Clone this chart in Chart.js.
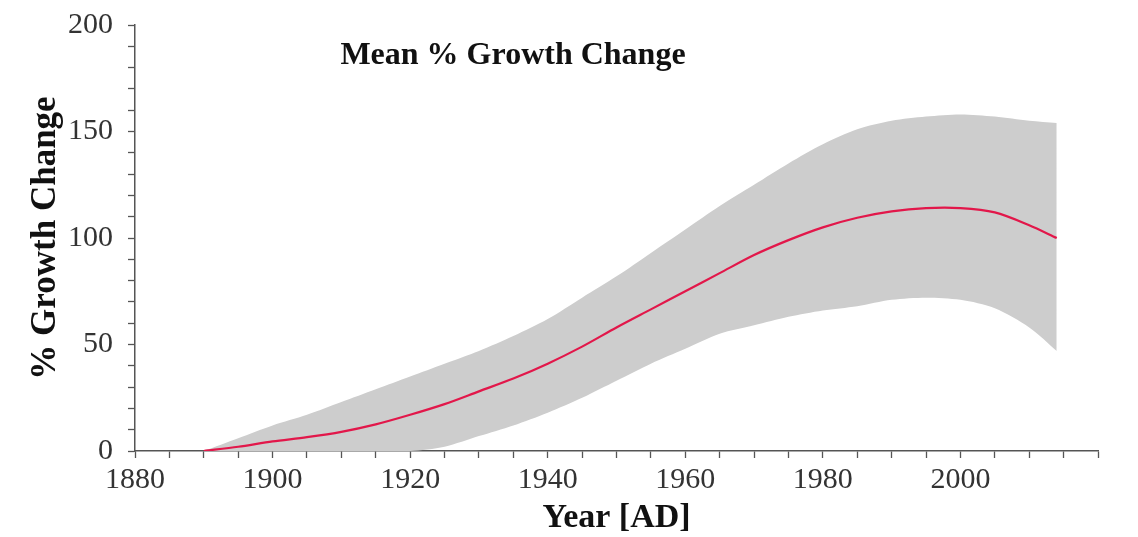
<!DOCTYPE html>
<html>
<head>
<meta charset="utf-8">
<title>Mean % Growth Change</title>
<script src="https://cdn.jsdelivr.net/npm/chart.js@4"></script>
<style>
    html, body { margin: 0; padding: 0; background: #fff; }
    #wrap { width: 1138px; height: 537px; }
</style>
</head>
<body>
<div id="wrap"><canvas id="growthChart"></canvas></div>
<script>
// Values
const years = [1890, 1895, 1900, 1905, 1910, 1915, 1920, 1925, 1930, 1935, 1940, 1945, 1950,
               1955, 1960, 1965, 1970, 1975, 1980, 1985, 1990, 1995, 2000, 2005, 2010, 2014];
const meanGrowth = [0, 2, 4.5, 6.5, 9, 12.5, 17, 22, 28, 34, 41, 49, 58,
                    66.5, 75, 83.5, 92, 99, 105, 109.5, 112.5, 114, 114, 112, 106, 100];
const upperBound = [0, 6, 12, 17, 23, 29, 35, 41, 47, 54, 62, 72, 82,
                    93, 104, 115, 125, 135, 144, 151, 155, 157, 158, 157, 155, 154];
const lowerBound = [0, 0, 0, 0, 0, 0, 0, 2, 7, 12, 18, 25, 33,
                    41, 48, 55, 59, 63, 66, 68, 71, 72, 71, 67, 58, 47];

const xMin = 1880, xMax = 2020, xMajor = 20, xMinor = 5, xLastLabel = 2000;
const yMin = 0, yMax = 200, yMajor = 50, yMinor = 10;

const chartTitle = 'Mean % Growth Change';
const serif = '"Liberation Serif", "DejaVu Serif", serif';
const axisColor = '#555';

function toPoints(values) {
    return years.map(function(yr, i) {
        return { x: yr, y: values[i] };
    });
}

// Title sits inside the plot area
const innerTitle = {
    id: 'innerTitle',
    afterDraw: function(chart) {
        const ctx = chart.ctx;
        ctx.save();
        ctx.font = 'bold 32px ' + serif;
        ctx.fillStyle = '#111';
        ctx.textAlign = 'center';
        ctx.textBaseline = 'middle';
        ctx.fillText(chartTitle, chart.chartArea.left + 378, 56);
        ctx.restore();
    }
};

const ctx = document.getElementById('growthChart').getContext('2d');
new Chart(ctx, {
    type: 'line',
    data: {
        datasets: [{
            label: 'Mean',
            data: toPoints(meanGrowth),
            borderColor: '#e2174a',
            borderWidth: 2.2,
            pointRadius: 0,
            tension: 0.3,
            fill: false,
            order: 0
        }, {
            label: 'Upper',
            data: toPoints(upperBound),
            borderWidth: 0,
            borderColor: 'rgba(0,0,0,0)',
            backgroundColor: 'rgb(205,205,205)',
            pointRadius: 0,
            tension: 0.3,
            fill: '+1',
            order: 1
        }, {
            label: 'Lower',
            data: toPoints(lowerBound),
            borderWidth: 0,
            borderColor: 'rgba(0,0,0,0)',
            pointRadius: 0,
            tension: 0.3,
            fill: false,
            order: 1
        }]
    },
    options: {
        responsive: true,
        maintainAspectRatio: false,
        animation: false,
        layout: {
            padding: { top: 25, right: 40, left: 0, bottom: 0 }
        },
        plugins: {
            legend: { display: false },
            tooltip: { enabled: false }
        },
        scales: {
            x: {
                type: 'linear',
                min: xMin,
                max: xMax,
                afterFit: function(scale) { scale.height = 86; },
                border: { color: axisColor, width: 1.5 },
                grid: { drawOnChartArea: false, tickLength: 7, tickColor: axisColor, tickWidth: 1.3 },
                ticks: {
                    stepSize: xMinor,
                    autoSkip: false,
                    maxRotation: 0,
                    padding: 4,
                    color: '#333',
                    font: { family: serif, size: 30 },
                    callback: function(value) {
                        return (value % xMajor === 0 && value <= xLastLabel) ? String(value) : '';
                    }
                },
                title: {
                    display: true,
                    text: 'Year [AD]',
                    color: '#111',
                    font: { family: serif, size: 34, weight: 'bold', lineHeight: 1 },
                    padding: { top: 0, bottom: 2 }
                }
            },
            y: {
                min: yMin,
                max: yMax,
                afterFit: function(scale) {
                    scale.width = 135;
                    scale.paddingTop = 0;
                    scale.paddingBottom = 0;
                },
                border: { color: axisColor, width: 1.5 },
                grid: { drawOnChartArea: false, tickLength: 7, tickColor: axisColor, tickWidth: 1.3 },
                ticks: {
                    stepSize: yMinor,
                    autoSkip: false,
                    padding: 15,
                    color: '#333',
                    font: { family: serif, size: 30 },
                    callback: function(value) {
                        return value % yMajor === 0 ? String(value) : '';
                    }
                },
                title: {
                    display: true,
                    text: '% Growth Change',
                    color: '#111',
                    font: { family: serif, size: 35, weight: 'bold', lineHeight: 1 },
                    padding: { top: 28, bottom: 0 }
                }
            }
        }
    },
    plugins: [innerTitle]
});
</script>
</body>
</html>
